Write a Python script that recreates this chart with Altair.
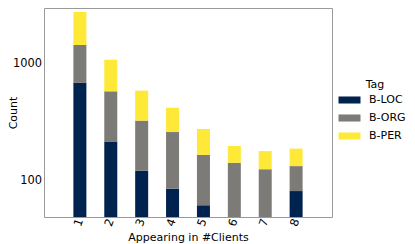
import altair as alt
import pandas as pd

clients = [1, 2, 3, 4, 5, 6, 7, 8]
tags = ["B-LOC", "B-ORG", "B-PER"]
colors = ["#00224E", "#7C7B78", "#FEE838"]
loc_counts = [690, 217, 122, 86, 62, 0, 0, 82]
org_counts = [763, 367, 206, 176, 105, 143, 126, 52]
per_counts = [1329, 504, 264, 161, 111, 56, 54, 55]
y_ticks = [100, 1000]

rows = []
for tag, vals in zip(tags, [loc_counts, org_counts, per_counts]):
    for c, v in zip(clients, vals):
        rows.append({"Clients": c, "Tag": tag, "Count": v, "order": tags.index(tag)})
df = pd.DataFrame(rows)

FONT = "DejaVu Sans"

chart = (
    alt.Chart(df)
    .transform_filter("datum.Count > 0")
    .transform_stack(
        stack="Count",
        groupby=["Clients"],
        as_=["y0", "y1"],
        sort=[alt.SortField("order", order="ascending")],
    )
    .transform_calculate(y0c="max(datum.y0, 1)")
    .mark_bar(size=13)
    .encode(
        x=alt.X(
            "Clients:Q",
            scale=alt.Scale(domain=[0, 9], nice=False, zero=False),
            axis=alt.Axis(
                values=clients,
                format="d",
                labelAngle=290,
                title="Appearing in #Clients",
                titleY=23,
                titleBaseline="alphabetic",
                labelPadding=2,
            ),
        ),
        y=alt.Y(
            "y1:Q",
            scale=alt.Scale(type="log", domain=[49.2, 3010], nice=False, clamp=True),
            axis=alt.Axis(
                values=y_ticks,
                format="d",
                title="Count",
                titleX=-28,
                titleBaseline="alphabetic",
                labelPadding=2.5,
            ),
        ),
        y2="y0c:Q",
        color=alt.Color(
            "Tag:N",
            scale=alt.Scale(domain=tags, range=colors),
            legend=alt.Legend(
                title="Tag",
                orient="none",
                legendX=300,
                legendY=71,
                symbolType="M-2,-0.64H2V0.64H-2Z",
                symbolSize=121,
                symbolStrokeWidth=0,
                labelOffset=14,
                rowPadding=6,
                titlePadding=4.5,
                titleAnchor="middle",
                padding=0,
            ),
        ),
        order=alt.Order("order:Q"),
    )
    .properties(
        width=288,
        height=209,
        autosize=alt.AutoSizeParams(type="none"),
        padding={"left": 36, "top": 0, "right": 75, "bottom": 26},
    )
    .configure_view(stroke="#999999", strokeWidth=1)
    .configure_axis(
        grid=False,
        ticks=False,
        domain=False,
        labelFont=FONT,
        titleFont=FONT,
        labelFontSize=11.4,
        titleFontSize=11,
        titleFontWeight="normal",
        labelColor="#000000",
        titleColor="#000000",
    )
    .configure_legend(
        labelFont=FONT,
        titleFont=FONT,
        labelFontSize=11,
        titleFontSize=11,
        titleFontWeight="normal",
        labelColor="#000000",
        titleColor="#000000",
    )
)

chart.save("out.html", embed_options={"renderer": "svg", "actions": False})
